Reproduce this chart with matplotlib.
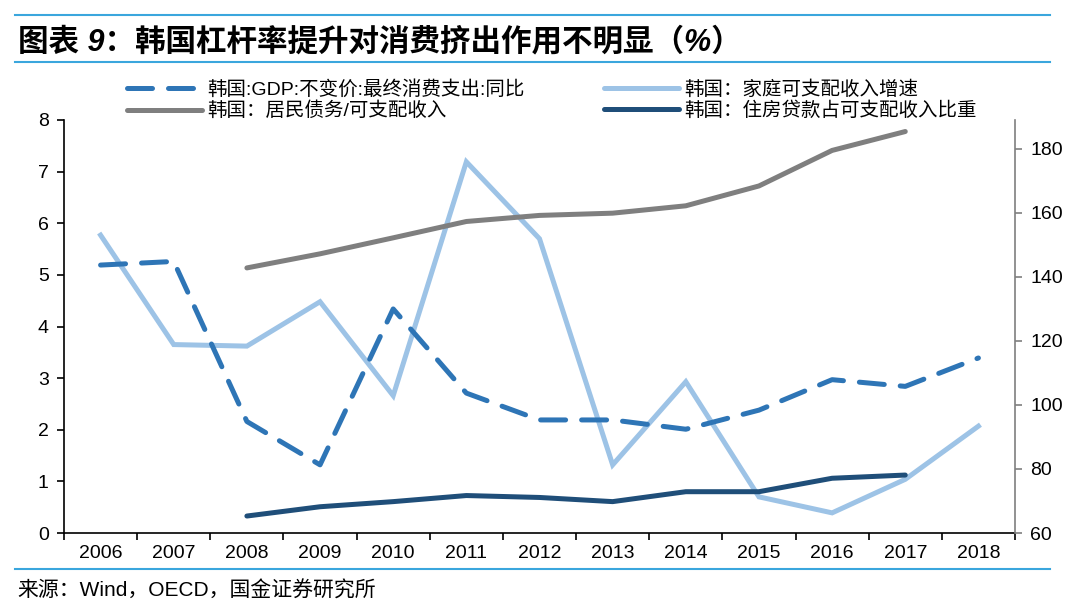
import numpy as np
import matplotlib
matplotlib.use('Agg')
import matplotlib.pyplot as plt
from matplotlib.lines import Line2D

plt.rcParams['font.family'] = ['Liberation Sans', 'Noto Sans CJK SC', 'DejaVu Sans']

### Data
years = ['2006', '2007', '2008', '2009', '2010', '2011', '2012',
         '2013', '2014', '2015', '2016', '2017', '2018']
nan = np.nan
# left axis (%)
consumption_yoy = [5.19, 5.26, 2.16, 1.32, 4.34, 2.71, 2.19,
                   2.19, 2.01, 2.38, 2.97, 2.84, 3.39]
income_growth = [5.77, 3.65, 3.62, 4.48, 2.66, 7.19, 5.70,
                 1.32, 2.93, 0.70, 0.39, 1.04, 2.07]
# right axis (%)
debt_to_income = [nan, nan, 142.8, 147.2, 152.2, 157.3, 159.2,
                  159.9, 162.2, 168.4, 179.5, 185.4, nan]
mortgage_to_income = [nan, nan, 65.3, 68.2, 69.8, 71.7, 71.1,
                      69.8, 72.9, 72.9, 77.1, 78.1, nan]

labels = ['韩国:GDP:不变价:最终消费支出:同比', '韩国：居民债务/可支配收入',
          '韩国：家庭可支配收入增速', '韩国：住房贷款占可支配收入比重']

c_dash = '#2E75B6'
c_light = '#9DC3E6'
c_gray = '#7F7F7F'
c_navy = '#1F4E79'
c_rule = '#3AA6DD'

W, H = 1080, 613
fig = plt.figure(figsize=(W / 100, H / 100), dpi=100)
ax1 = fig.add_axes([64 / W, 1 - 533 / H, (1015 - 64) / W, (533 - 120) / H])
ax2 = ax1.twinx()

x = np.arange(len(years))
lw = 3.6
ax1.plot(x, income_growth, color=c_light, lw=lw, solid_joinstyle='miter', zorder=2)
ax1.plot(x, consumption_yoy, color=c_dash, lw=lw, dashes=(5, 3.2),
         dash_capstyle='round', zorder=3)
ax2.plot(x, debt_to_income, color=c_gray, lw=lw, solid_capstyle='round')
ax2.plot(x, mortgage_to_income, color=c_navy, lw=lw, solid_capstyle='round')

ax1.set_xlim(-0.5, len(years) - 0.5)
ax1.set_ylim(0, 8)
ax2.set_ylim(60, 189)
ax1.set_yticks(np.arange(0, 9, 1))
ax2.set_yticks(np.arange(60, 181, 20))

# category ticks on the boundaries, labels in the middle
ax1.set_xticks(np.arange(-0.5, len(years), 1))
ax1.set_xticklabels([])
ax1.set_xticks(x, minor=True)
ax1.set_xticklabels(years, minor=True, fontsize=14)
ax1.tick_params(axis='x', which='minor', length=0, pad=9)
ax1.tick_params(axis='x', which='major', length=5, width=1.2, direction='out')
ax1.tick_params(axis='y', labelsize=14, length=5, width=1.2, pad=6)
ax2.tick_params(axis='y', labelsize=14, length=5, width=1.2, color=c_gray, pad=6)

for ax in (ax1, ax2):
    ax.spines['top'].set_visible(False)
ax1.spines['right'].set_visible(False)
ax2.spines['left'].set_visible(False)
ax2.spines['bottom'].set_visible(False)
ax2.spines['right'].set_color(c_gray)
ax2.spines['right'].set_linewidth(1.2)
ax1.spines['left'].set_linewidth(1.2)
ax1.spines['bottom'].set_linewidth(1.2)

### legend, two columns
handles = [Line2D([], [], color=c_dash, lw=lw, dashes=(5, 3.2), dash_capstyle='round'),
           Line2D([], [], color=c_gray, lw=lw, solid_capstyle='round'),
           Line2D([], [], color=c_light, lw=lw, solid_capstyle='round'),
           Line2D([], [], color=c_navy, lw=lw, solid_capstyle='round')]
leg_kw = dict(loc='upper left', frameon=False, fontsize=14, handlelength=3.85,
              handletextpad=0.3, borderpad=0, borderaxespad=0, labelspacing=0.15)
fig.legend(handles[:2], labels[:2], bbox_to_anchor=(127 / W, 1 - 80 / H), **leg_kw)
fig.legend(handles[2:], labels[2:], bbox_to_anchor=(604 / W, 1 - 80 / H), **leg_kw)

### title, rules and source
fig.add_artist(Line2D([15 / W, 1050 / W], [1 - 15 / H, 1 - 15 / H], color=c_rule, lw=1.5))
fig.add_artist(Line2D([15 / W, 1050 / W], [1 - 62 / H, 1 - 62 / H], color=c_rule, lw=1.5))
fig.add_artist(Line2D([15 / W, 1050 / W], [1 - 569 / H, 1 - 569 / H], color=c_rule, lw=1.5))
fig.text(18 / W, 1 - 42 / H, '图表 9：韩国杠杆率提升对消费挤出作用不明显（%）',
         fontsize=22, fontweight='bold', fontstyle='italic', va='center', ha='left')
fig.text(17 / W, 1 - 591 / H, '来源：Wind，OECD，国金证券研究所',
         fontsize=15, va='center', ha='left')

fig.savefig('out.png', dpi=100)
